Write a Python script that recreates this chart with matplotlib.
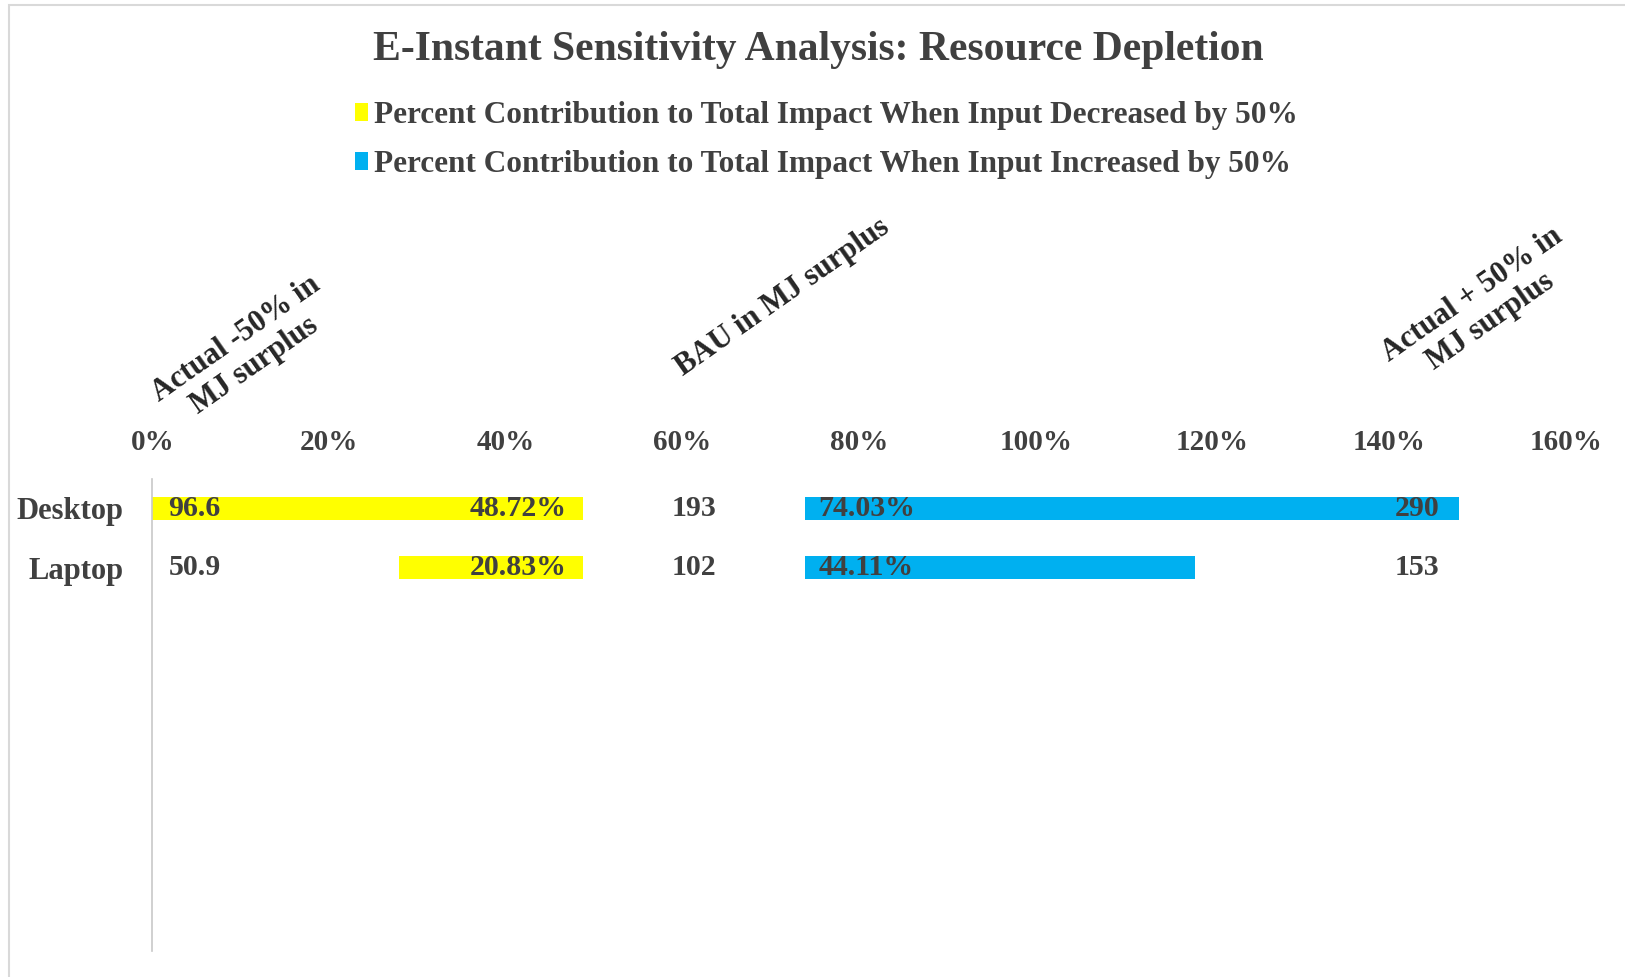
import matplotlib
matplotlib.use("Agg")
import matplotlib.pyplot as plt
from matplotlib.patches import Rectangle
from matplotlib.ticker import FuncFormatter

plt.rcParams['font.family'] = ['Liberation Serif', 'DejaVu Serif']
plt.rcParams['font.weight'] = 'bold'

# ---- data ----
categories = ['Desktop', 'Laptop']
spacer_before = [0.0, 27.89]          # invisible offset (%)
pct_decreased = [48.72, 20.83]        # yellow (%)
spacer_gap = [25.18, 25.18]           # invisible gap (%)
pct_increased = [74.03, 44.11]        # blue (%)
val_decreased = ['96.6', '50.9']      # MJ surplus, actual -50%
val_bau = ['193', '102']              # MJ surplus, BAU
val_increased = ['290', '153']        # MJ surplus, actual +50%
header_labels = ['Actual -50% in\nMJ surplus', 'BAU in MJ surplus', 'Actual + 50% in\nMJ surplus']
x_ticks = [0, 20, 40, 60, 80, 100, 120, 140, 160]
legend_labels = ['Percent Contribution to Total Impact When Input Decreased by 50%',
                 'Percent Contribution to Total Impact When Input Increased by 50%']
title = 'E-Instant Sensitivity Analysis: Resource Depletion'
n_slots = 8

YELLOW = '#FFFF00'
BLUE = '#00B0F0'
TXT = '#404040'

W, H = 1625, 977
fig = plt.figure(figsize=(W / 100, H / 100), dpi=100)
ax_left, ax_right, ax_top, ax_bot = 152.4, 1566, 479, 951
ax = fig.add_axes([ax_left / W, 1 - ax_bot / H, (ax_right - ax_left) / W, (ax_bot - ax_top) / H])

y = list(range(len(categories)))
h = 0.39
left1 = spacer_before
b_dec = ax.barh(y, pct_decreased, left=left1, height=h, color=YELLOW, label=legend_labels[0])
left2 = [a + b + c for a, b, c in zip(spacer_before, pct_decreased, spacer_gap)]
b_inc = ax.barh(y, pct_increased, left=left2, height=h, color=BLUE, label=legend_labels[1])

# data labels
fs_lab = 21.5
for i in y:
    end_dec = spacer_before[i] + pct_decreased[i]
    ax.text(1.8, i, val_decreased[i], ha='left', va='center', fontsize=fs_lab, color=TXT)
    ax.text(end_dec - 1.8, i, f'{pct_decreased[i]:.2f}%', ha='right', va='center', fontsize=fs_lab, color=TXT)
    ax.text(end_dec + spacer_gap[i] / 2, i, val_bau[i], ha='center', va='center', fontsize=fs_lab, color=TXT)
    ax.text(left2[i] + 1.5, i, f'{pct_increased[i]:.2f}%', ha='left', va='center', fontsize=fs_lab, color=TXT)
    ax.text(145.7, i, val_increased[i], ha='right', va='center', fontsize=fs_lab, color=TXT)

ax.set_xlim(0, 160)
ax.set_ylim(n_slots - 0.5, -0.5)
ax.set_xticks(x_ticks)
ax.xaxis.set_major_formatter(FuncFormatter(lambda v, p: f'{v:.0f}%'))
ax.xaxis.tick_top()
ax.tick_params(axis='x', length=0, pad=16.5, labelsize=21, labelcolor=TXT)
ax.set_yticks(y)
ax.set_yticklabels(categories)
ax.tick_params(axis='y', length=0, pad=21, labelsize=22, labelcolor=TXT)
for lbl in ax.get_yticklabels():
    lbl.set_y(lbl.get_position()[1])
ax.spines['left'].set_color('#c8c8c8')
for s in ['top', 'right', 'bottom']:
    ax.spines[s].set_visible(False)
ax.spines['left'].set_linewidth(1.2)
ax.set_facecolor('none')

# rotated header labels
header_pos = [(245.6, 352), (782.5, 297), (1481, 308)]
for lab, (px, py) in zip(header_labels, header_pos):
    fig.text(px / W, 1 - py / H, lab, rotation=35, ha='center', va='center',
             multialignment='center', fontsize=22, color='#262626', linespacing=1.15,
             rotation_mode='anchor')

# title
fig.text(818 / W, 1 - 50 / H, title, ha='center', va='center', fontsize=30, color=TXT)

# legend
fig.legend(handles=[b_dec, b_inc], labels=legend_labels, loc='center left',
           bbox_to_anchor=(355 / W, 1 - 140 / H), frameon=False, fontsize=22.5,
           handlelength=0.4, handleheight=0.5, handletextpad=0.2, labelspacing=0.65,
           borderpad=0, borderaxespad=0, labelcolor=TXT)

# chart border
fig.patches.append(Rectangle((9 / W, -0.1), 1.2, 1 - 5 / H + 0.1, transform=fig.transFigure,
                             fill=False, edgecolor='#d9d9d9', linewidth=1.5, figure=fig))

fig.savefig('out.png', dpi=100)
